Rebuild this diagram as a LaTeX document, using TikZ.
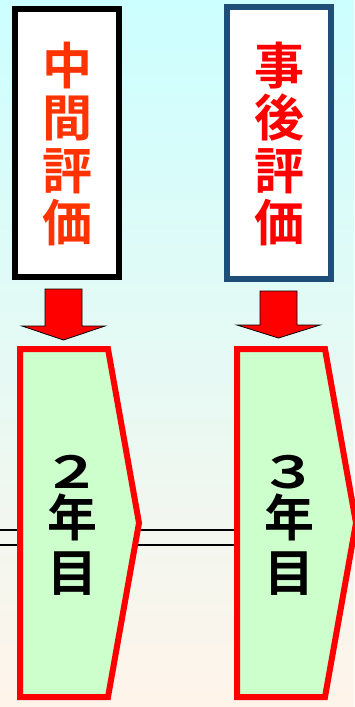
\documentclass[tikz,border=0pt]{standalone}
\usepackage{fontspec}
\usepackage{graphicx}
\newfontfamily\jpfont{Noto Sans CJK JP}[BoldFont={Noto Sans CJK JP Bold}]
\definecolor{bgtop}{HTML}{CCFFFF}
\definecolor{bgbot}{HTML}{FFF4EA}
\definecolor{pentfill}{HTML}{CCFFCC}
\definecolor{boxblue}{HTML}{1F4E79}
\definecolor{orred}{HTML}{FF3300}
\newcommand{\yeardigit}[1]{\scalebox{1.4}[1.05]{\fontsize{42}{54.5}\selectfont #1}}
\tikzset{
  evalbox/.style={fill=white, line width=5.5pt},
  pent/.style={fill=pentfill, draw=red, line width=6pt, line join=miter},
  downarrow/.style={fill=red, draw=black, line width=0.8pt, line join=miter},
  evaltext/.style={font=\jpfont\bfseries\fontsize{50}{52.5}\selectfont, align=center, inner sep=0pt},
  yeartext/.style={font=\jpfont\bfseries\fontsize{50}{54.5}\selectfont, align=center, inner sep=0pt},
  tline/.style={black, line width=1.2pt}
}
\begin{document}
\begin{tikzpicture}[x=1pt, y=-1pt]
\useasboundingbox (0,0) rectangle (354,707);
% background
\shade[top color=bgtop, middle color=white, bottom color=bgbot] (0,0) rectangle (354,707);
% timeline coordinates
\coordinate (L1a) at (0,530);
\coordinate (L2a) at (0,545);
\coordinate (P1tipA) at (137,530);
\coordinate (P1tipB) at (135,545);
\coordinate (P2leftA) at (237,530);
\coordinate (P2leftB) at (237,545);
\coordinate (P1leftA) at (20,530);
\coordinate (P1leftB) at (20,545);
\draw[tline] (L1a) -- (P1leftA);
\draw[tline] (L2a) -- (P1leftB);
\draw[tline] (P1tipA) -- (P2leftA);
\draw[tline] (P1tipB) -- (P2leftB);
% pentagons
\draw[pent] (20,349) -- (108,349) -- (139,523) -- (108,697) -- (20,697) -- cycle;
\draw[pent] (237,349) -- (325,349) -- (356,523) -- (325,697) -- (237,697) -- cycle;
\node[yeartext] (y2) at (72,525) {\yeardigit{２}\\[-6pt]年\\目};
\node[yeartext] (y3) at (289,525) {\yeardigit{３}\\[-6pt]年\\目};
% arrows
\draw[downarrow] (45,289) -- (82,289) -- (82,326) -- (105,326) -- (63.5,340) -- (22,326) -- (45,326) -- cycle;
\draw[downarrow] (260,291) -- (297,291) -- (297,325) -- (320,325) -- (278.5,338) -- (237,325) -- (260,325) -- cycle;
% evaluation boxes
\draw[evalbox, draw=black] (15,9) rectangle (119,277);
\node[evaltext, text=orred] (mid) at (67,144) {中\\間\\評\\価};
\draw[evalbox, draw=boxblue] (227,7) rectangle (331,279);
\node[evaltext, text=red] (post) at (279,144) {事\\後\\評\\価};
\end{tikzpicture}
\end{document}
